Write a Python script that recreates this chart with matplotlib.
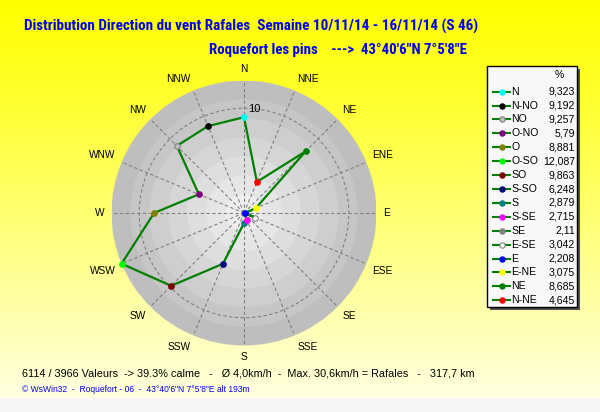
import numpy as np
import matplotlib
matplotlib.use("Agg")
import matplotlib.pyplot as plt
from matplotlib.patches import Rectangle, Circle
from matplotlib.lines import Line2D
from matplotlib import font_manager

# ---------------- data ----------------
directions = ["N", "N-NO", "NO", "O-NO", "O", "O-SO", "SO", "S-SO",
              "S", "S-SE", "SE", "E-SE", "E", "E-NE", "NE", "N-NE"]
angles_deg = [0, 337.5, 315, 292.5, 270, 247.5, 225, 202.5,
              180, 157.5, 135, 112.5, 90, 67.5, 45, 22.5]
values = [9.323, 9.192, 9.257, 5.79, 8.881, 12.087, 9.863, 6.248,
          2.879, 2.715, 2.11, 3.042, 2.208, 3.075, 8.685, 4.645]
value_labels = ["9,323", "9,192", "9,257", "5,79", "8,881", "12,087", "9,863", "6,248",
                "2,879", "2,715", "2,11", "3,042", "2,208", "3,075", "8,685", "4,645"]
marker_colors = ["#00FFFF", "#000000", "#C0C0C0", "#800080", "#808000", "#00FF00",
                 "#800000", "#000080", "#008080", "#FF00FF", "#808080", "#FFFFFF",
                 "#0000FF", "#FFFF00", "#008000", "#FF0000"]
axis_labels = ["N", "NNE", "NE", "ENE", "E", "ESE", "SE", "SSE",
               "S", "SSW", "SW", "WSW", "W", "WNW", "NW", "NNW"]
axis_angles = [0, 22.5, 45, 67.5, 90, 112.5, 135, 157.5,
               180, 202.5, 225, 247.5, 270, 292.5, 315, 337.5]
r_min = min(values)
r_max = max(values)
ring_values = [10]

title1 = "Distribution Direction du vent Rafales  Semaine 10/11/14 - 16/11/14 (S 46)"
title2 = "Roquefort les pins    --->  43°40'6\"N 7°5'8\"E"
footer1 = "6114 / 3966 Valeurs  -> 39.3% calme   -   Ø 4,0km/h  -  Max. 30,6km/h = Rafales   -   317,7 km"
footer2 = "© WsWin32  -  Roquefort - 06  -  43°40'6\"N 7°5'8\"E alt 193m"

# ---------------- figure ----------------
W, H = 600, 412
fig = plt.figure(figsize=(W / 100, H / 100), dpi=100)
plt.rcParams['font.family'] = ['Liberation Sans', 'DejaVu Sans']

installed = {f.name for f in font_manager.fontManager.ttflist}
narrow = None
for cand in ['Liberation Sans Narrow', 'Arial Narrow', 'Roboto Condensed', 'DejaVu Sans Condensed']:
    if cand in installed:
        narrow = cand
        break
tfont = [narrow, 'Liberation Sans', 'DejaVu Sans'] if narrow else ['Liberation Sans', 'DejaVu Sans']


def fx(x):
    return x / W


def fy(y):
    return 1 - y / H


# background gradient
bg = fig.add_axes([0, 0, 1, 1], zorder=-10)
bg.set_xlim(0, W)
bg.set_ylim(H, 0)
bg.axis("off")
n = 256
t = np.linspace(0, 1, n)[:, None]
grad = np.zeros((n, 2, 3))
grad[..., 0] = 1.0
grad[..., 1] = 1.0
grad[..., 2] = (t ** 1.1 * 0.88) * np.ones((1, 2))
bg.imshow(grad, extent=[0, W, 398, 0], aspect="auto", interpolation="bilinear")
bg.add_patch(Rectangle((0, 398), W, H - 398, color="#F6F6F6", lw=0))

# polar geometry
cx, cy, R = 244, 213, 132.5
rect = [fx(cx - R), fy(cy + R), 2 * R / W, 2 * R / H]

face = fig.add_axes(rect, zorder=-5)
face.set_xlim(-1, 1)
face.set_ylim(-1, 1)
face.axis("off")
band_colors = ["#BEBEBE", "#C6C6C6", "#CECECE", "#D6D6D6", "#DEDEDE", "#E6E6E6", "#EEEEEE"]
nb = len(band_colors)
for i, c in enumerate(band_colors):
    face.add_patch(Circle((0, 0), 1 - i / nb, color=c, lw=0))

ax = fig.add_axes(rect, projection="polar")
ax.patch.set_alpha(0)
ax.set_theta_zero_location("N")
ax.set_theta_direction(-1)
ax.set_ylim(r_min, r_max)
ax.set_xticks(np.deg2rad(axis_angles))
ax.set_xticklabels([])
ax.set_yticks(ring_values)
ax.set_yticklabels([])
ax.grid(True, color="#808080", linestyle=(0, (3, 2.2)), linewidth=0.8)
ax.spines["polar"].set_visible(False)
ax.tick_params(length=0)

# direction labels
r_lab = r_min + 1.05 * (r_max - r_min)
for lab, a in zip(axis_labels, axis_angles):
    s, c = np.sin(np.deg2rad(a)), np.cos(np.deg2rad(a))
    ha = "left" if s > 0.1 else ("right" if s < -0.1 else "center")
    va = "bottom" if c > 0.1 else ("top" if c < -0.1 else "center")
    ax.text(np.deg2rad(a), r_lab, lab, ha=ha, va=va, fontsize=7.3,
            color="black", clip_on=False)
ax.text(np.deg2rad(5.5), 10, "10", ha="center", va="center", fontsize=8, color="black")

# data line
th = np.deg2rad(angles_deg + [angles_deg[0]])
vv = values + [values[0]]
ax.plot(th, vv, color="#008000", lw=1.6, zorder=3)
for a, v, mc in zip(angles_deg, values, marker_colors):
    ec = "#808080" if mc in ("#FFFFFF", "#C0C0C0") else mc
    ax.plot([np.deg2rad(a)], [v], marker="o", ms=4.0, mfc=mc, mec=ec, mew=0.8,
            zorder=4, clip_on=False)

# ---------------- legend ----------------
lx0, ly0, lw_, lh_ = 487, 66, 90, 241
fig.patches.append(Rectangle((fx(lx0 + 3), fy(ly0 + lh_ + 3)), lw_ / W, lh_ / H,
                             transform=fig.transFigure, color="#505050", lw=0, zorder=1))
fig.patches.append(Rectangle((fx(lx0), fy(ly0 + lh_)), lw_ / W, lh_ / H,
                             transform=fig.transFigure, facecolor="#F8F8F8",
                             edgecolor="black", lw=1, zorder=2))
fig.text(fx(559), fy(75), "%", ha="center", va="center", fontsize=7.5, zorder=3)
for i, (d, vl, mc) in enumerate(zip(directions, value_labels, marker_colors)):
    y = 91.7 + i * 13.9
    fig.lines.append(Line2D([fx(493), fx(510)], [fy(y), fy(y)], transform=fig.transFigure,
                            color="#008000", lw=1.5, zorder=3))
    ec = "#808080" if mc in ("#FFFFFF", "#C0C0C0") else mc
    fig.lines.append(Line2D([fx(501.5)], [fy(y)], transform=fig.transFigure, marker="o",
                            ms=3.8, mfc=mc, mec=ec, mew=0.8, zorder=4))
    fig.text(fx(511.5), fy(y), d, ha="left", va="center", fontsize=7.6, zorder=3)
    fig.text(fx(575), fy(y), vl, ha="right", va="center", fontsize=7.6, zorder=3)

# ---------------- titles / footers ----------------
t1 = fig.text(fx(24), fy(26), title1, ha="left", va="center", fontsize=10, fontweight="bold",
              color="#0000F0", family=tfont)
t2 = fig.text(fx(209), fy(50), title2, ha="left", va="center", fontsize=10, fontweight="bold",
              color="#0000F0", family=tfont)
f1 = fig.text(fx(22), fy(374), footer1, ha="left", va="center", fontsize=8.5, color="black")
f2 = fig.text(fx(22), fy(390), footer2, ha="left", va="center", fontsize=6.3, color="#0000F0")

# fit text widths to the reference
targets = [(t1, 456), (t2, 259), (f1, 450), (f2, 228)]
fig.canvas.draw()
rend = fig.canvas.get_renderer()
for txt, target in targets:
    w = txt.get_window_extent(rend).width
    txt.set_fontsize(txt.get_fontsize() * target / w)

fig.savefig("out.png", dpi=100)
